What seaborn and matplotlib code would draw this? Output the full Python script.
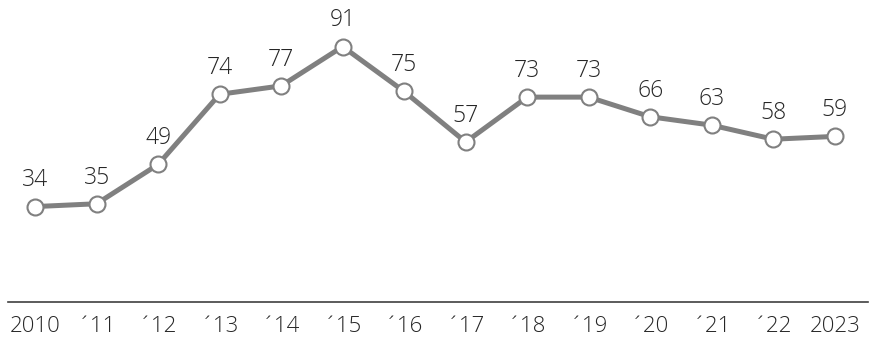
import matplotlib
import pandas as pd
import seaborn as sns

matplotlib.use("Agg")
import matplotlib.pyplot as plt

years = ["2010", "´11", "´12", "´13", "´14", "´15", "´16", "´17", "´18", "´19", "´20", "´21", "´22", "2023"]
values = [34, 35, 49, 74, 77, 91, 75, 57, 73, 73, 66, 63, 58, 59]

LINE_COLOR = "#808080"
TEXT_COLOR = "#262626"


def main() -> None:
    sns.set_theme(style="white")
    plt.rcParams["font.family"] = ["Open Sans", "DejaVu Sans"]

    data = pd.DataFrame({"pos": range(len(years)), "value": values})

    fig = plt.figure(figsize=(8.7, 3.39), dpi=100)
    ax = fig.add_axes([8 / 870, 37 / 339, 860 / 870, 302 / 339])

    sns.lineplot(
        data=data,
        x="pos",
        y="value",
        ax=ax,
        color=LINE_COLOR,
        linewidth=3.6,
        marker="o",
        markersize=11.5,
        markerfacecolor="white",
        markeredgecolor=LINE_COLOR,
        markeredgewidth=1.5,
    )

    for pos, value in zip(data["pos"], data["value"]):
        ax.annotate(
            str(value),
            (pos, value),
            xytext=(0, 14.5),
            textcoords="offset points",
            ha="center",
            va="baseline",
            fontsize=16.5,
            fontweight="light",
            color=TEXT_COLOR,
        )

    ax.set_xlim(-0.44, 13.54)
    ax.set_ylim(0, 107.6)
    ax.set_xticks(range(len(years)))
    ax.set_xticklabels(years, fontsize=16, fontweight="light", color=TEXT_COLOR)
    ax.set_yticks([])
    ax.set_xlabel("")
    ax.set_ylabel("")
    ax.tick_params(axis="x", length=0, pad=10)

    for side in ["top", "left", "right"]:
        ax.spines[side].set_visible(False)
    ax.spines["bottom"].set_color("#404040")
    ax.spines["bottom"].set_linewidth(1.2)

    fig.savefig("out.png", dpi=100)
    plt.close(fig)


if __name__ == "__main__":
    main()
